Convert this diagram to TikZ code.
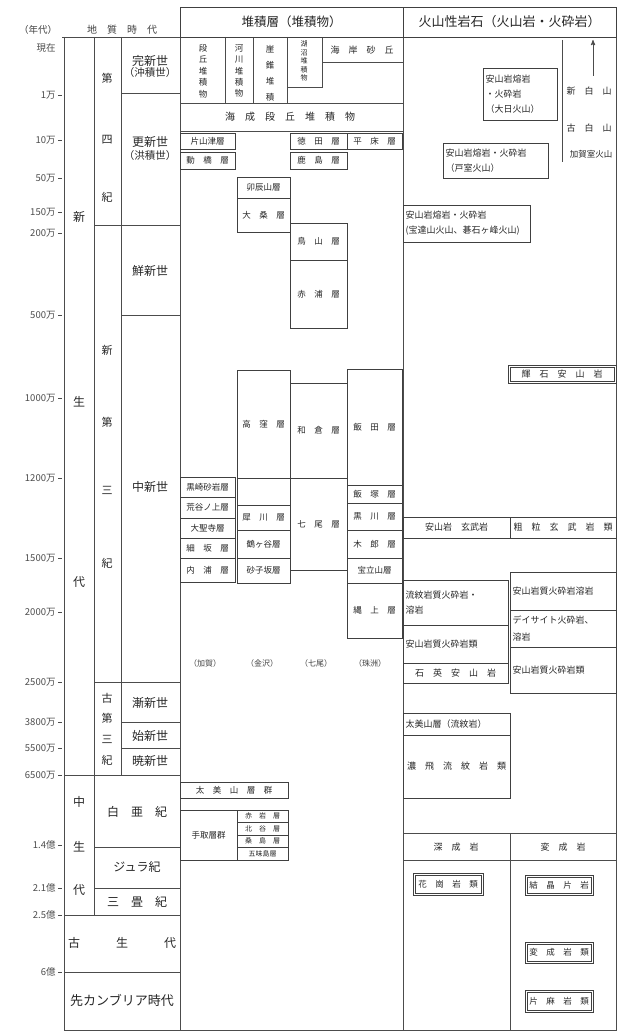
\documentclass[tikz,border=0pt]{standalone}
\usepackage{fontspec}
\setmainfont{Noto Sans CJK JP}
\usetikzlibrary{arrows}

\begin{document}
\begin{tikzpicture}[x=1pt,y=-1pt,>=stealth',line width=0.9pt,color=black!70,
	every node/.style={text=black!85,inner sep=0pt},
	bx/.style={draw=black!75,rectangle,anchor=north west,outer sep=0pt,align=center,font=\fontsize{8.5}{11}\selectfont},
	lbx/.style={bx,align=left,inner xsep=2.5pt,font=\fontsize{9}{15}\selectfont},
	dbl/.style={bx,line width=0.6pt},
	age/.style={anchor=east,font=\fontsize{9.5}{10}\selectfont,text=black!70},
	era/.style={font=\fontsize{12}{12}\selectfont},
	prd/.style={font=\fontsize{11}{11}\selectfont},
	epo/.style={font=\fontsize{12}{12}\selectfont,align=center},
	vt/.style={align=center,font=\fontsize{8.5}{11.4}\selectfont},
	lab/.style={font=\fontsize{8}{9}\selectfont,text=black!75}]

\useasboundingbox (0,0) rectangle (618,1032);

% frame
\draw (64,37) -- (64,1030) -- (616,1030) -- (616,37);
\draw (62,37) -- (180,37) (180,37) -- (180,1030) (403,37) -- (403,1030);
\draw (94,37) -- (94,915) (121,37) -- (121,775);
\foreach \a/\b/\y in {121/180/93,94/180/225,121/180/315,94/180/682,121/180/722,121/180/748,
	64/180/775,94/180/847,94/180/888,64/180/915,64/180/972}
	\draw (\a,\y) -- (\b,\y);
\draw (180,103) -- (403,103) (180,131) -- (403,131);
\draw (225,37) -- (225,103) (253,37) -- (253,103) (287,37) -- (287,103);
\draw (287,87) -- (322,87) -- (322,37) (322,62) -- (403,62);
\draw (403,833) -- (616,833) (403,860) -- (616,860) (510,833) -- (510,1030);

\node[bx,minimum width=223pt,minimum height=30pt,font=\fontsize{12.5}{13}\selectfont] (h1) at (180,7) {堆積層（堆積物）};
\node[bx,minimum width=213pt,minimum height=30pt,font=\fontsize{13}{13}\selectfont] (h2) at (403,7) {火山性岩石（火山岩・火砕岩）};

% time scale
\node[lab,font=\fontsize{9.5}{10}\selectfont] (t0) at (38,30) {（年代）};
\node[lab,font=\fontsize{10}{10}\selectfont] (t1) at (122,30) {地　質　時　代};
\node[age] (a48) at (56,48) {現在};
\foreach \y/\t in {95/1万,140/10万,178/50万,212/150万,233/200万,315/500万,398/1000万,478/1200万,
	558/1500万,612/2000万,682/2500万,722/3800万,748/5500万,775/6500万,845/1.4億,888/2.1億,915/2.5億,972/6億}
	{\node[age] (a\y) at (56,\y) {\t};
	 \draw[line width=0.8pt] (58,\y) -- (62,\y);}

\node[era] (e1) at (79,217) {新};
\node[era] (e2) at (79,402) {生};
\node[era] (e3) at (79,582) {代};
\node[era] (e4) at (79,802) {中};
\node[era] (e5) at (79,847) {生};
\node[era] (e6) at (79,890) {代};

\node[prd] (p1) at (107,78) {第};
\node[prd] (p2) at (107,140) {四};
\node[prd] (p3) at (107,197) {紀};
\node[prd] (p4) at (107,350) {新};
\node[prd] (p5) at (107,422) {第};
\node[prd] (p6) at (107,490) {三};
\node[prd] (p7) at (107,563) {紀};
\node[prd] (p8) at (107,698) {古};
\node[prd] (p9) at (107,718) {第};
\node[prd] (p10) at (107,739) {三};
\node[prd] (p11) at (107,760) {紀};

\node[epo] (q1) at (150,66) {完新世\\[-1pt]{\fontsize{10.5}{11}\selectfont（沖積世）}};
\node[epo] (q2) at (150,148) {更新世\\[1pt]{\fontsize{10.5}{11}\selectfont（洪積世）}};
\node[epo] (q3) at (150,271) {鮮新世};
\node[epo] (q4) at (150,487) {中新世};
\node[epo] (q5) at (150,703) {漸新世};
\node[epo] (q6) at (150,736) {始新世};
\node[epo] (q7) at (150,761) {暁新世};
\node[epo] (q8) at (137,812) {白　亜　紀};
\node[epo] (q9) at (137,867) {ジュラ紀};
\node[epo] (q10) at (137,902) {三　畳　紀};
\node[epo] (q11) at (122,943) {古\hspace{36pt}生\hspace{36pt}代};
\node[epo,font=\fontsize{13}{13}\selectfont] (q12) at (122,1000) {先カンブリア時代};

% deposits
\node[vt] (v1) at (203,71) {段\\丘\\堆\\積\\物};
\node[vt] (v2) at (239,71) {河\\川\\堆\\積\\物};
\node[vt,font=\fontsize{8.5}{16}\selectfont] (v3) at (270,73) {崖\\錐\\堆\\積};
\node[vt,font=\fontsize{7}{8.4}\selectfont] (v4) at (304,61) {湖\\沼\\堆\\積\\物};
\node[lab,font=\fontsize{9}{9}\selectfont,text=black!85] (v5) at (362,50) {海　岸　砂　丘};
\node[lab,font=\fontsize{10}{10}\selectfont,text=black!85] (v6) at (290,117) {海　成　段　丘　堆　積　物};

\node[bx,minimum width=55pt,minimum height=16pt] (k1) at (180,133) {片山津層};
\node[bx,minimum width=55pt,minimum height=17pt] (k2) at (180,152) {動　橋　層};
\node[bx,minimum width=57pt,minimum height=16pt] (n1) at (290,133) {徳　田　層};
\node[bx,minimum width=57pt,minimum height=17pt] (n2) at (290,152) {鹿　島　層};
\node[bx,minimum width=55pt,minimum height=16pt] (s1) at (347,133) {平　床　層};
\node[bx,minimum width=53pt,minimum height=21pt] (kz1) at (237,177) {卯辰山層};
\node[bx,minimum width=53pt,minimum height=34pt] (kz2) at (237,198) {大　桑　層};
\node[bx,minimum width=57pt,minimum height=37pt] (n3) at (290,223) {鳥　山　層};
\node[bx,minimum width=57pt,minimum height=68pt] (n4) at (290,260) {赤　浦　層};

\node[bx,minimum width=53pt,minimum height=108pt] (kz3) at (237,370) {高　窪　層};
\node[bx,minimum width=57pt,minimum height=95pt] (n5) at (290,383) {和　倉　層};
\node[bx,minimum width=55pt,minimum height=116pt] (s2) at (347,369) {飯　田　層};

\node[bx,minimum width=55pt,minimum height=20pt] (k3) at (180,477) {黒崎砂岩層};
\node[bx,minimum width=55pt,minimum height=21pt] (k4) at (180,497) {荒谷ノ上層};
\node[bx,minimum width=55pt,minimum height=20pt] (k5) at (180,518) {大聖寺層};
\node[bx,minimum width=55pt,minimum height=20pt] (k6) at (180,538) {細　坂　層};
\node[bx,minimum width=55pt,minimum height=24pt] (k7) at (180,558) {内　浦　層};
\node[bx,minimum width=53pt,minimum height=27pt] (kz4) at (237,478) {};
\node[bx,minimum width=53pt,minimum height=25pt] (kz5) at (237,505) {犀　川　層};
\node[bx,minimum width=53pt,minimum height=28pt] (kz6) at (237,530) {鶴ヶ谷層};
\node[bx,minimum width=53pt,minimum height=25pt] (kz7) at (237,558) {砂子坂層};
\node[bx,minimum width=57pt,minimum height=92pt] (n6) at (290,478) {七　尾　層};
\node[bx,minimum width=55pt,minimum height=18pt] (s3) at (347,485) {飯　塚　層};
\node[bx,minimum width=55pt,minimum height=27pt] (s4) at (347,503) {黒　川　層};
\node[bx,minimum width=55pt,minimum height=28pt] (s5) at (347,530) {木　郎　層};
\node[bx,minimum width=55pt,minimum height=25pt] (s6) at (347,558) {宝立山層};
\node[bx,minimum width=55pt,minimum height=55pt] (s7) at (347,583) {縄　上　層};

\node[lab] (c1) at (205,663) {（加賀）};
\node[lab] (c2) at (262,663) {（金沢）};
\node[lab] (c3) at (316,663) {（七尾）};
\node[lab] (c4) at (370,663) {（珠洲）};

\node[bx,minimum width=108pt,minimum height=16pt] (m1) at (180,782) {太　美　山　層　群};
\node[bx,minimum width=57pt,minimum height=50pt] (m2) at (180,810) {手取層群};
\node[bx,minimum width=51pt,minimum height=12.5pt,font=\fontsize{7}{7}\selectfont] (m3) at (237,810) {赤　岩　層};
\node[bx,minimum width=51pt,minimum height=12.5pt,font=\fontsize{7}{7}\selectfont] (m4) at (237,822.5) {北　谷　層};
\node[bx,minimum width=51pt,minimum height=12.5pt,font=\fontsize{7}{7}\selectfont] (m5) at (237,835) {桑　島　層};
\node[bx,minimum width=51pt,minimum height=12.5pt,font=\fontsize{7}{7}\selectfont] (m6) at (237,847.5) {五味島層};

% volcanic rocks
\coordinate (up1) at (593,76);
\coordinate (up2) at (593,40);
\draw[->] (up1) -- (up2);
\coordinate (br1) at (562,40);
\coordinate (br2) at (562,162);
\draw (br1) -- (br2);
\node[lab,font=\fontsize{9}{9}\selectfont,text=black!85] (w1) at (589,91) {新　白　山};
\node[lab,font=\fontsize{9}{9}\selectfont,text=black!85] (w2) at (589,128) {古　白　山};
\node[lab,font=\fontsize{8.5}{9}\selectfont,text=black!85] (w3) at (591,154) {加賀室火山};

\node[lbx,text width=69pt,minimum height=52pt] (r1) at (483,68) {安山岩熔岩\\・火砕岩\\（大日火山）};
\node[lbx,text width=100pt,minimum height=35pt] (r2) at (443,143) {安山岩熔岩・火砕岩\\（戸室火山）};
\node[lbx,text width=122pt,minimum height=37pt] (r3) at (403,205) {安山岩熔岩・火砕岩\\(宝達山火山、碁石ヶ峰火山)};
\node[dbl,minimum width=108pt,minimum height=18pt,font=\fontsize{9}{9}\selectfont] (r4) at (508,365) {輝　石　安　山　岩};
\node[bx,minimum width=107pt,minimum height=21pt,font=\fontsize{9}{9}\selectfont] (r5) at (403,517) {安山岩　玄武岩};
\node[bx,minimum width=106pt,minimum height=21pt,font=\fontsize{9}{9}\selectfont] (r6) at (510,517) {粗　粒　玄　武　岩　類};
\node[lbx,text width=100pt,minimum height=45pt] (r7) at (403,580) {流紋岩質火砕岩・\\溶岩};
\node[lbx,text width=100pt,minimum height=38pt] (r8) at (403,625) {安山岩質火砕岩類};
\node[bx,minimum width=105pt,minimum height=20pt,font=\fontsize{9}{9}\selectfont] (r9) at (403,663) {石　英　安　山　岩};
\node[lbx,text width=101pt,minimum height=38pt] (r10) at (510,572) {安山岩質火砕岩溶岩};
\node[lbx,text width=101pt,minimum height=37pt,font=\fontsize{9}{17}\selectfont] (r11) at (510,610) {デイサイト火砕岩、\\溶岩};
\node[lbx,text width=101pt,minimum height=46pt] (r12) at (510,647) {安山岩質火砕岩類};
\node[lbx,text width=102pt,minimum height=22pt] (r13) at (403,713) {太美山層（流紋岩）};
\node[bx,minimum width=107pt,minimum height=63pt,font=\fontsize{9}{9}\selectfont] (r14) at (403,735) {濃　飛　流　紋　岩　類};

\node[lab,font=\fontsize{9}{9}\selectfont,text=black!85] (d1) at (456,847) {深　成　岩};
\node[lab,font=\fontsize{9}{9}\selectfont,text=black!85] (d2) at (563,847) {変　成　岩};
\node[dbl,minimum width=70pt,minimum height=22pt,font=\fontsize{8.5}{9}\selectfont] (r15) at (413,873) {花　崗　岩　類};
\node[dbl,minimum width=68pt,minimum height=20pt,font=\fontsize{8.5}{9}\selectfont] (r16) at (525,875) {結　晶　片　岩};
\node[dbl,minimum width=68pt,minimum height=21pt,font=\fontsize{8.5}{9}\selectfont] (r17) at (525,942) {変　成　岩　類};
\node[dbl,minimum width=68pt,minimum height=22pt,font=\fontsize{8.5}{9}\selectfont] (r18) at (525,990) {片　麻　岩　類};
\foreach \n in {r4,r15,r16,r17,r18}
	\draw[line width=0.6pt,black!75] ([xshift=2pt,yshift=-2pt]\n.north west) rectangle ([xshift=-2pt,yshift=2pt]\n.south east);

\end{tikzpicture}
\end{document}
